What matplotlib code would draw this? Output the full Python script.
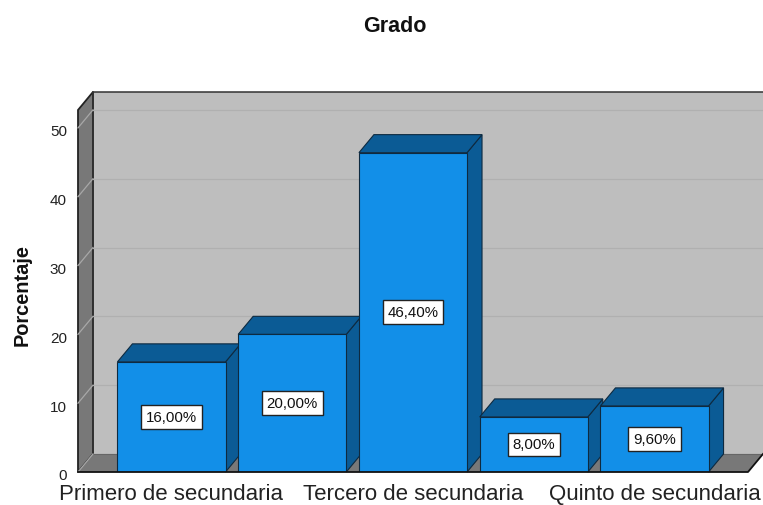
import matplotlib
matplotlib.use('Agg')
import matplotlib.pyplot as plt
from matplotlib.patches import Polygon
from matplotlib.transforms import ScaledTranslation

plt.rcParams['font.family'] = ['Liberation Sans', 'DejaVu Sans']

categorias = ['Primero de secundaria', 'Segundo de secundaria', 'Tercero de secundaria',
              'Cuarto de secundaria', 'Quinto de secundaria']
porcentajes = [16.0, 20.0, 46.4, 8.0, 9.6]
etiquetas = ['16,00%', '20,00%', '46,40%', '8,00%', '9,60%']
marcas_y = [0, 10, 20, 30, 40, 50]

AZUL = '#128FE8'
AZUL_OSC = '#0B5B95'
PARED = '#BEBEBE'
LATERAL = '#787878'
REJILLA = '#B0B0B0'
BORDE = '#0E2A40'

# profundidad del efecto 3D en unidades de datos
dx = 0.124
dy = 2.62
x0, x1 = -0.774, 4.774
y1 = 52.6
ancho = 0.895

fig = plt.figure(figsize=(7.63, 5.06), dpi=100)
ax = fig.add_axes([78 / 763, 33 / 506, 670 / 763, 362 / 506])
ax.set_xlim(x0, x1)
ax.set_ylim(0, y1)
for s in ax.spines.values():
    s.set_visible(False)
ax.patch.set_visible(False)


def poli(puntos, color, z, borde=BORDE, lw=0.8):
    ax.add_patch(Polygon(puntos, closed=True, facecolor=color, edgecolor=borde,
                         linewidth=lw, clip_on=False, zorder=z, joinstyle='miter'))


# paredes y suelo
poli([(x0 + dx, dy), (x1 + dx, dy), (x1 + dx, y1 + dy), (x0 + dx, y1 + dy)], PARED, 1, borde='none')
poli([(x0, 0), (x0 + dx, dy), (x0 + dx, y1 + dy), (x0, y1)], LATERAL, 1, borde='#222222', lw=1.3)
poli([(x0, 0), (x1, 0), (x1 + dx, dy), (x0 + dx, dy)], LATERAL, 1, borde='none')
ax.plot([x0 + dx, x1 + dx], [y1 + dy, y1 + dy], color='#333333', lw=1.1, clip_on=False, zorder=2)
ax.plot([x0 + dx, x0 + dx], [dy, y1 + dy], color='#333333', lw=1.1, clip_on=False, zorder=2)
ax.plot([x0 + dx, x1 + dx], [dy, dy], color='#666666', lw=0.8, clip_on=False, zorder=2)
ax.plot([x0, x1, x1 + dx], [0, 0, dy], color='#111111', lw=1.3, clip_on=False, zorder=20)

for m in marcas_y:
    if m > 0:
        ax.plot([x0 + dx, x1 + dx], [m + dy, m + dy], color=REJILLA, lw=0.9, clip_on=False, zorder=2)
    ax.plot([x0, x0 + dx], [m, m + dy], color='#A8A8A8', lw=0.9, clip_on=False, zorder=2)

# barras
for i, v in enumerate(porcentajes):
    z = 5 + i
    izq, der = i - ancho / 2, i + ancho / 2
    poli([(der, 0), (der + dx, dy), (der + dx, v + dy), (der, v)], AZUL_OSC, z)
    poli([(izq, v), (der, v), (der + dx, v + dy), (izq + dx, v + dy)], AZUL_OSC, z)
    ax.bar(i, v, width=ancho, color=AZUL, edgecolor=BORDE, linewidth=0.8, zorder=z + 0.5)

for i, v in enumerate(porcentajes):
    ax.text(i, v / 2, etiquetas[i], ha='center', va='center', fontsize=10.8, color='#111111', zorder=30,
            bbox=dict(boxstyle='square,pad=0.33', facecolor='white', edgecolor='#222222', linewidth=1.0))

ax.set_xticks(range(len(categorias)))
ax.set_xticklabels([c if i % 2 == 0 else '' for i, c in enumerate(categorias)], fontsize=16, color='#222222')
ax.set_yticks(marcas_y)
ax.tick_params(axis='x', length=0, pad=8)
ax.tick_params(axis='y', length=0, pad=8, labelsize=11, labelcolor='#222222')
# las etiquetas del eje y van algo por debajo de la marca
baja = ScaledTranslation(0, -2 / 100, fig.dpi_scale_trans)
for t in ax.get_yticklabels():
    t.set_transform(t.get_transform() + baja)

fig.text(395 / 763, 1 - 27 / 506, 'Grado', ha='center', va='center', fontsize=15.5, fontweight='bold', color='#111111')
fig.text(22 / 763, 1 - 295 / 506, 'Porcentaje', rotation=90, ha='center', va='center',
         fontsize=14.4, fontweight='bold', color='#111111')

fig.savefig('out.png', dpi=100, facecolor='white')
